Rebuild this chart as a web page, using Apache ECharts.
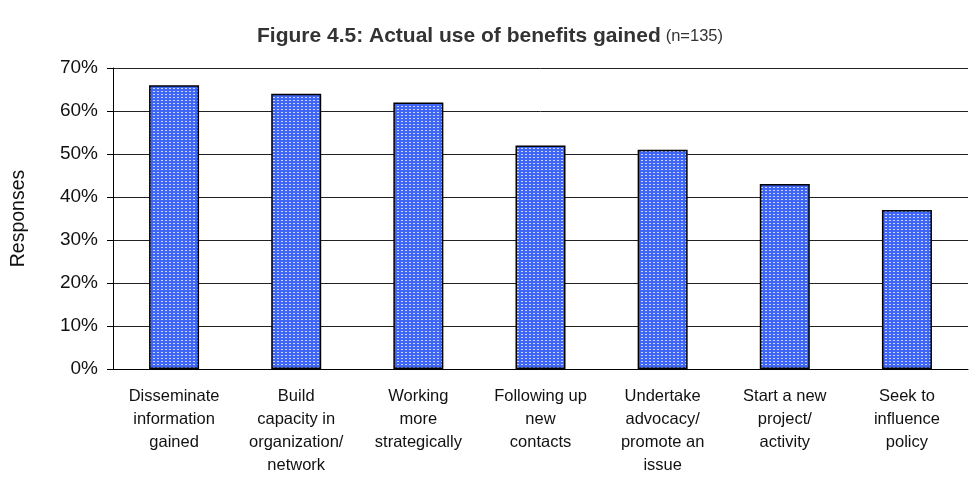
<!DOCTYPE html>
<html>
<head>
<meta charset="utf-8">
<script src="https://cdn.jsdelivr.net/npm/echarts@6/dist/echarts.min.js"></script>
<style>
html,body{margin:0;padding:0;background:#fff;}
#chart{width:976px;height:490px;}
</style>
</head>
<body>
<div id="chart"></div>
<script>
// Benefit categories (line breaks as laid out under each bar)
const categories = [
  'Disseminate\ninformation\ngained',
  'Build\ncapacity in\norganization/\nnetwork',
  'Working\nmore\nstrategically',
  'Following up\nnew\ncontacts',
  'Undertake\nadvocacy/\npromote an\nissue',
  'Start a new\nproject/\nactivity',
  'Seek to\ninfluence\npolicy'
];
// Share of respondents (%)
const responses = [66, 64, 62, 52, 51, 43, 37];
// Value axis ticks
const yTicks = [0, 10, 20, 30, 40, 50, 60, 70];

// Dotted blue fill for the bars
function dotPattern() {
  const c = document.createElement('canvas');
  c.width = 4; c.height = 3;
  const g = c.getContext('2d');
  g.fillStyle = '#3f66f6';
  g.fillRect(0, 0, 4, 3);
  g.fillStyle = '#c8d6ff';
  g.fillRect(1, 1, 2, 1);
  return c;
}

const chart = echarts.init(document.getElementById('chart'));
chart.setOption({
  animation: false,
  backgroundColor: '#ffffff',
  textStyle: { fontFamily: 'Liberation Sans, Arial, sans-serif' },
  title: {
    text: '{b|Figure 4.5: Actual use of benefits gained} {n|(n=135)}',
    left: 485, top: 21, textAlign: 'center',
    textStyle: {
      rich: {
        b: { fontSize: 21, fontWeight: 'bold', color: '#333', fontFamily: 'Liberation Sans' },
        n: { fontSize: 16.5, fontWeight: 'normal', color: '#333', fontFamily: 'Liberation Sans' }
      }
    }
  },
  grid: { left: 113, right: 8, top: 68, bottom: 121, containLabel: false },
  xAxis: {
    type: 'category',
    data: categories,
    axisLine: { lineStyle: { color: '#000', width: 1 } },
    axisTick: { show: false },
    axisLabel: {
      interval: 0, color: '#111', fontSize: 16.5, lineHeight: 23, margin: 16,
      fontFamily: 'Liberation Sans', align: 'center'
    }
  },
  yAxis: {
    type: 'value',
    min: yTicks[0], max: yTicks[yTicks.length - 1], interval: 10,
    name: 'Responses', nameLocation: 'middle', nameGap: 84, nameRotate: 90,
    nameTextStyle: { fontSize: 19.5, color: '#111', fontFamily: 'Liberation Sans' },
    axisLine: { show: true, lineStyle: { color: '#000', width: 1 } },
    axisTick: { show: true, inside: false, length: 6, lineStyle: { color: '#000' } },
    axisLabel: { formatter: '{value}%', color: '#111', fontSize: 19, margin: 15, fontFamily: 'Liberation Sans' },
    splitLine: { lineStyle: { color: '#222', width: 1 } }
  },
  series: [{
    type: 'bar',
    data: responses,
    barWidth: 50,
    itemStyle: {
      color: { image: dotPattern(), repeat: 'repeat' },
      borderColor: '#000', borderWidth: 1.5
    }
  }]
});
</script>
</body>
</html>
